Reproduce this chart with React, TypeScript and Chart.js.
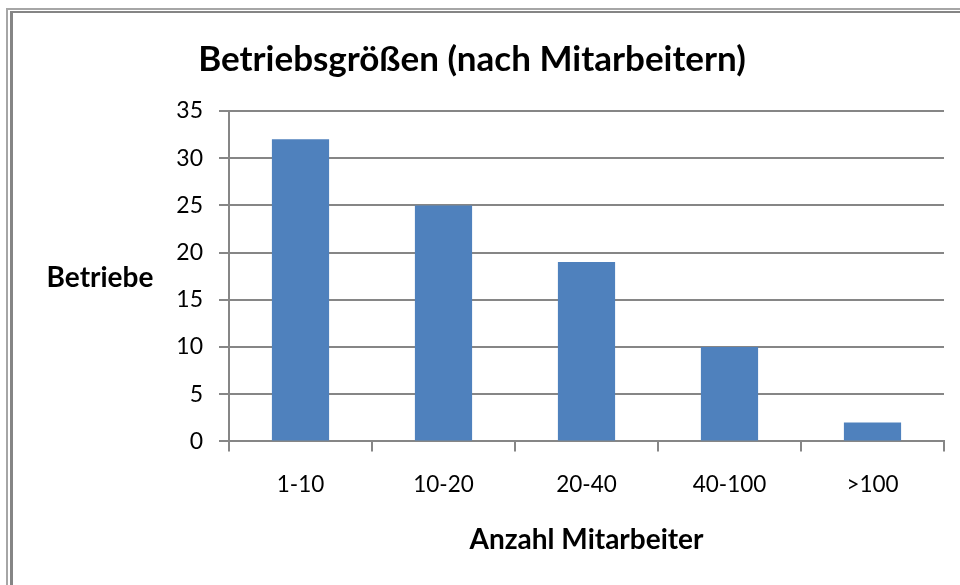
import React, { useEffect, useRef } from "react";
import { Chart, registerables } from "chart.js";

Chart.register(...registerables);

const categories = ["1-10", "10-20", "20-40", "40-100", ">100"];
const betriebe = [32, 25, 19, 10, 2];
const chartTitle = "Betriebsgrößen (nach Mitarbeitern)";
const yTitle = "Betriebe";
const xTitle = "Anzahl Mitarbeiter";

const FONT = "Lato, 'Open Sans', sans-serif";

const framePlugin = {
  id: "frame",
  beforeDraw(chart: any) {
    const ctx = chart.ctx;
    ctx.save();
    ctx.fillStyle = "#ffffff";
    ctx.fillRect(0, 0, chart.width, chart.height);
    ctx.fillStyle = "#a6a6a6";
    ctx.fillRect(6, 8, chart.width - 6, 2);
    ctx.fillRect(6, 8, 2, chart.height - 8);
    ctx.fillStyle = "#858585";
    ctx.fillRect(10, 11, chart.width - 10, 2);
    ctx.fillRect(10, 11, 3, chart.height - 11);
    ctx.restore();
  },
};

const yTitlePlugin = {
  id: "yTitleHorizontal",
  afterDraw(chart: any) {
    const ctx = chart.ctx;
    const area = chart.chartArea;
    ctx.save();
    ctx.font = `bold 28px ${FONT}`;
    ctx.fillStyle = "#000000";
    ctx.textAlign = "center";
    ctx.textBaseline = "middle";
    ctx.fillText(yTitle, 100, (area.top + area.bottom) / 2 + 2);
    ctx.restore();
  },
};

export default function App() {
  const ref = useRef<HTMLCanvasElement>(null);
  useEffect(() => {
    if (!ref.current) return;
    const chart = new Chart(ref.current, {
      type: "bar",
      data: {
        labels: categories,
        datasets: [
          {
            label: yTitle,
            data: betriebe,
            backgroundColor: "#4f81bd",
            borderWidth: 0,
            barPercentage: 0.4,
            categoryPercentage: 1,
          },
        ],
      },
      options: {
        animation: false,
        responsive: false,
        maintainAspectRatio: false,
        layout: { padding: { left: 0, right: 16, top: 39, bottom: 28 } },
        plugins: {
          legend: { display: false },
          tooltip: { enabled: false },
          title: {
            display: true,
            text: chartTitle,
            color: "#000000",
            font: { family: FONT, size: 35, weight: "bold" },
            padding: { top: 0, bottom: 30 },
          },
        },
        scales: {
          x: {
            grid: {
              display: true,
              drawOnChartArea: false,
              drawTicks: true,
              tickLength: 10,
              color: "#868686",
              lineWidth: 2,
              offset: true,
            },
            border: { display: true, color: "#868686", width: 2 },
            ticks: {
              color: "#000000",
              font: { family: FONT, size: 22.5 },
              padding: 20,
            },
            title: {
              display: true,
              text: xTitle,
              color: "#000000",
              font: { family: FONT, size: 28, weight: "bold" },
              padding: { top: 5, bottom: 0 },
            },
          },
          y: {
            min: 0,
            max: 35,
            afterFit(scale: any) {
              scale.width = 229;
            },
            grid: {
              color: "#868686",
              lineWidth: 2,
              drawTicks: true,
              tickLength: 10,
            },
            border: { display: true, color: "#868686", width: 2 },
            ticks: {
              stepSize: 5,
              color: "#000000",
              font: { family: FONT, size: 23 },
              padding: 16,
            },
          },
        },
      },
      plugins: [framePlugin, yTitlePlugin],
    });
    return () => chart.destroy();
  }, []);
  return (
    <div style={{ position: "absolute", left: 0, top: 0, width: 960, height: 585 }}>
      <canvas ref={ref} width={960} height={585} style={{ display: "block" }} />
    </div>
  );
}
